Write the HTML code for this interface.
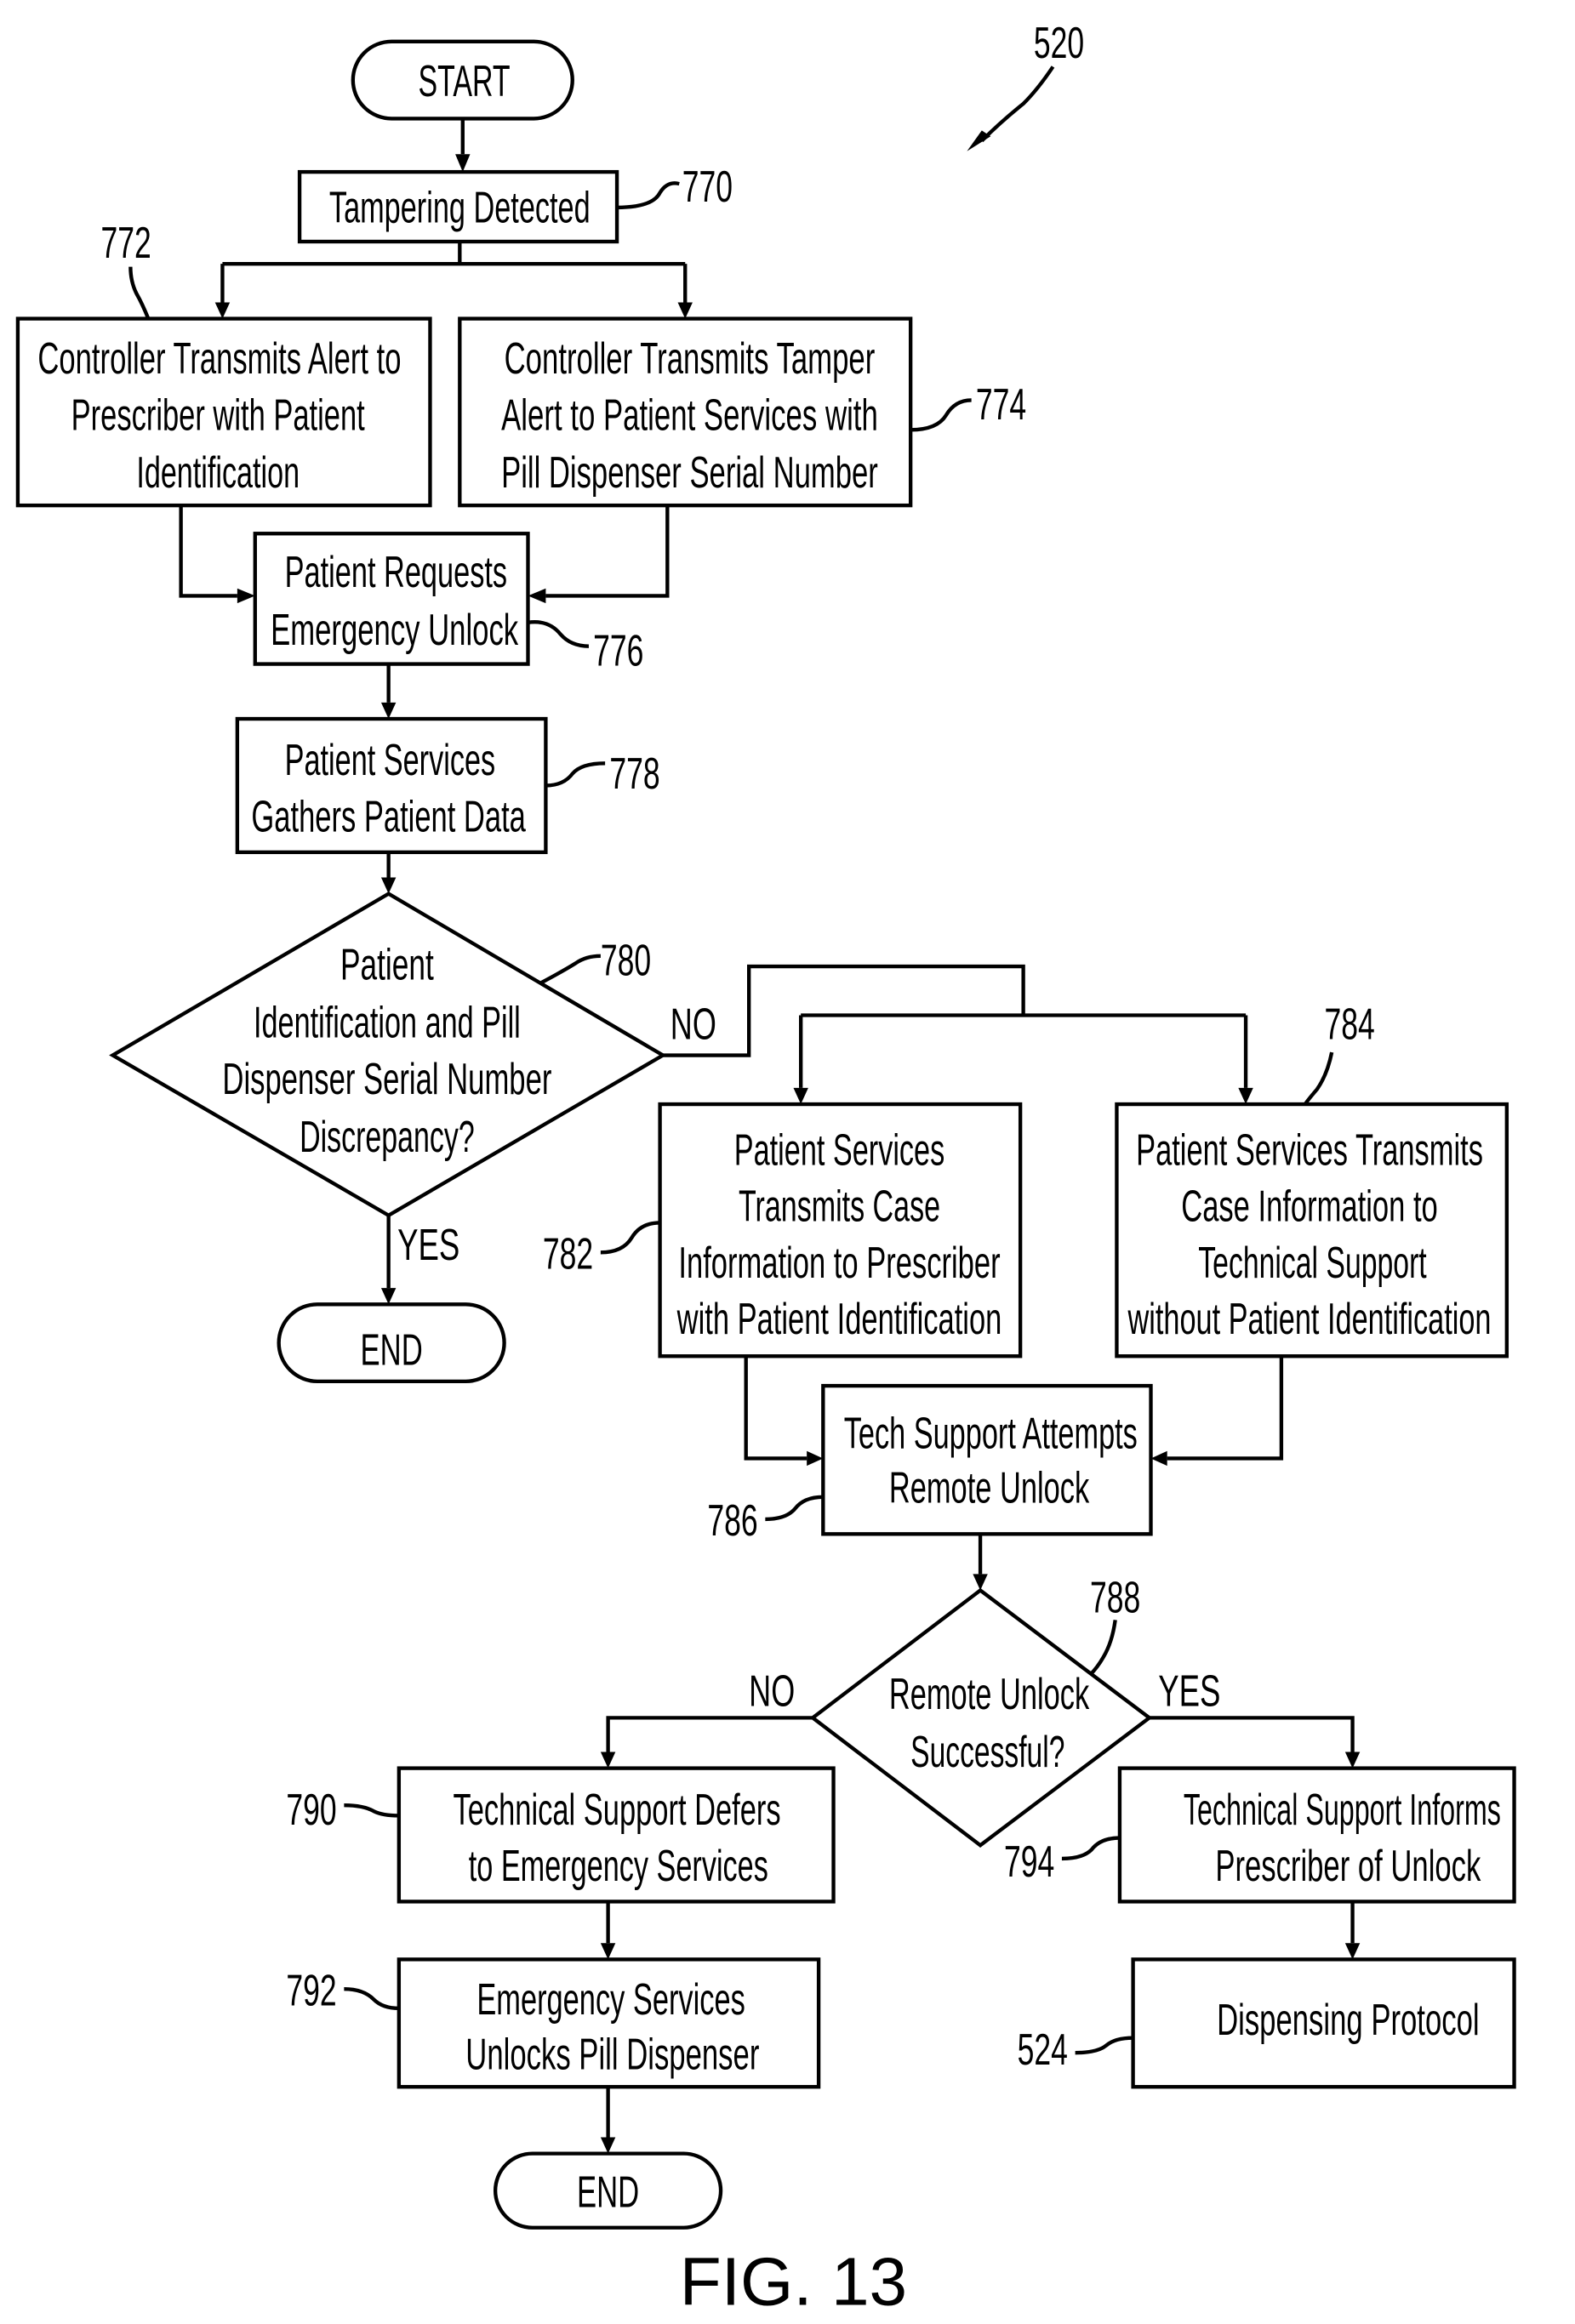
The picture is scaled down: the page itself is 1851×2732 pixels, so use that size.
<!DOCTYPE html>
<html><head><meta charset="utf-8"><style>
html,body{margin:0;padding:0;background:#fff;}
svg{display:block;}
text{font-family:"Liberation Sans Narrow","Liberation Sans",sans-serif;font-size:30px;fill:#000;}
</style></head><body>
<svg width="1851" height="2732" viewBox="0 0 1062 1568" preserveAspectRatio="none" xmlns="http://www.w3.org/2000/svg">
<g fill="none" stroke="#000" stroke-width="2.5">
<rect x="238" y="28" width="148" height="52" rx="26"/>
<rect x="202" y="116" width="214" height="47"/>
<rect x="12" y="215" width="278" height="126"/>
<rect x="310" y="215" width="304" height="126"/>
<rect x="172" y="360" width="184" height="88"/>
<rect x="160" y="485" width="208" height="90"/>
<polygon points="262,603 447,712 262,820 76,712"/>
<rect x="188" y="880" width="152" height="52" rx="26"/>
<rect x="445" y="745" width="243" height="170"/>
<rect x="753" y="745" width="263" height="170"/>
<rect x="555" y="935" width="221" height="100"/>
<polygon points="661,1073 775,1159 661,1245 548,1159"/>
<rect x="269" y="1193" width="293" height="90"/>
<rect x="269" y="1322" width="283" height="86"/>
<rect x="334" y="1453" width="152" height="50" rx="25"/>
<rect x="755" y="1193" width="266" height="90"/>
<rect x="764" y="1322" width="257" height="86"/>
<path d="M312 80V104"/>
<path d="M310 163V178M150 178H462M150 178V204M462 178V204"/>
<path d="M122 341V402H160M450 341V402H368"/>
<path d="M262 448V474M262 575V592"/>
<path d="M447 712H505V652H690V685M540 685H840M540 685V734M840 685V734"/>
<path d="M262 820V869"/>
<path d="M503 915V984H544M864 915V984H787"/>
<path d="M661 1035V1062"/>
<path d="M548 1159H410V1182M775 1159H912V1182"/>
<path d="M410 1283V1311M410 1408V1442M912 1283V1311"/>
<path d="M416 140Q440 140 445 130Q450 122 458 124"/>
<path d="M100 215Q96 205 92 198Q88 190 88 180"/>
<path d="M614 290Q632 290 638 280Q644 270 655 270"/>
<path d="M356 420Q370 418 378 428Q385 436 397 436"/>
<path d="M368 530Q380 530 386 522Q392 515 408 515"/>
<path d="M365 663Q380 655 388 650Q395 645 405 645"/>
<path d="M445 825Q432 825 426 835Q420 845 405 845"/>
<path d="M898 710Q895 725 888 735Q882 742 880 745"/>
<path d="M555 1010Q542 1010 536 1018Q530 1025 516 1025"/>
<path d="M752 1093Q750 1108 744 1118Q740 1125 735 1130"/>
<path d="M269 1225Q258 1225 252 1222Q245 1218 232 1218"/>
<path d="M269 1355Q258 1355 252 1349Q245 1342 232 1342"/>
<path d="M755 1240Q742 1240 736 1248Q730 1254 716 1254"/>
<path d="M764 1375Q752 1375 746 1380Q740 1385 725 1385"/>
<path d="M710 45Q700 60 690 70Q675 82 662 95"/>
</g>
<g fill="#000">
<polygon points="307,104 317,104 312,116"/>
<polygon points="145,204 155,204 150,215"/>
<polygon points="457,204 467,204 462,215"/>
<polygon points="160,397 160,407 172,402"/>
<polygon points="368,397 368,407 356,402"/>
<polygon points="257,474 267,474 262,485"/>
<polygon points="257,592 267,592 262,603"/>
<polygon points="535,734 545,734 540,745"/>
<polygon points="835,734 845,734 840,745"/>
<polygon points="257,869 267,869 262,880"/>
<polygon points="544,979 544,989 555,984"/>
<polygon points="787,979 787,989 776,984"/>
<polygon points="656,1062 666,1062 661,1073"/>
<polygon points="405,1182 415,1182 410,1193"/>
<polygon points="907,1182 917,1182 912,1193"/>
<polygon points="405,1311 415,1311 410,1322"/>
<polygon points="405,1442 415,1442 410,1453"/>
<polygon points="907,1311 917,1311 912,1322"/>
<polygon points="652,102 668,92 662,88"/>
</g>
<g text-anchor="middle">
<text x="313" y="65" textLength="62" lengthAdjust="spacingAndGlyphs">START</text>
<text x="310" y="150" textLength="176" lengthAdjust="spacingAndGlyphs">Tampering Detected</text>
<text x="148" y="252" textLength="245" lengthAdjust="spacingAndGlyphs">Controller Transmits Alert to</text>
<text x="147" y="290" textLength="198" lengthAdjust="spacingAndGlyphs">Prescriber with Patient</text>
<text x="147" y="329" textLength="110" lengthAdjust="spacingAndGlyphs">Identification</text>
<text x="465" y="252" textLength="250" lengthAdjust="spacingAndGlyphs">Controller Transmits Tamper</text>
<text x="465" y="290" textLength="254" lengthAdjust="spacingAndGlyphs">Alert to Patient Services with</text>
<text x="465" y="329" textLength="254" lengthAdjust="spacingAndGlyphs">Pill Dispenser Serial Number</text>
<text x="267" y="396" textLength="150" lengthAdjust="spacingAndGlyphs">Patient Requests</text>
<text x="266" y="435" textLength="167" lengthAdjust="spacingAndGlyphs">Emergency Unlock</text>
<text x="263" y="523" textLength="142" lengthAdjust="spacingAndGlyphs">Patient Services</text>
<text x="262" y="561" textLength="185" lengthAdjust="spacingAndGlyphs">Gathers Patient Data</text>
<text x="261" y="661" textLength="63" lengthAdjust="spacingAndGlyphs">Patient</text>
<text x="261" y="700" textLength="180" lengthAdjust="spacingAndGlyphs">Identification and Pill</text>
<text x="261" y="738" textLength="222" lengthAdjust="spacingAndGlyphs">Dispenser Serial Number</text>
<text x="261" y="777" textLength="118" lengthAdjust="spacingAndGlyphs">Discrepancy?</text>
<text x="264" y="921" textLength="42" lengthAdjust="spacingAndGlyphs">END</text>
<text x="566" y="786" textLength="142" lengthAdjust="spacingAndGlyphs">Patient Services</text>
<text x="566" y="824" textLength="136" lengthAdjust="spacingAndGlyphs">Transmits Case</text>
<text x="566" y="862" textLength="217" lengthAdjust="spacingAndGlyphs">Information to Prescriber</text>
<text x="566" y="900" textLength="219" lengthAdjust="spacingAndGlyphs">with Patient Identification</text>
<text x="883" y="786" textLength="234" lengthAdjust="spacingAndGlyphs">Patient Services Transmits</text>
<text x="883" y="824" textLength="173" lengthAdjust="spacingAndGlyphs">Case Information to</text>
<text x="885" y="862" textLength="154" lengthAdjust="spacingAndGlyphs">Technical Support</text>
<text x="883" y="900" textLength="245" lengthAdjust="spacingAndGlyphs">without Patient Identification</text>
<text x="668" y="977" textLength="198" lengthAdjust="spacingAndGlyphs">Tech Support Attempts</text>
<text x="667" y="1014" textLength="135" lengthAdjust="spacingAndGlyphs">Remote Unlock</text>
<text x="667" y="1153" textLength="135" lengthAdjust="spacingAndGlyphs">Remote Unlock</text>
<text x="666" y="1192" textLength="104" lengthAdjust="spacingAndGlyphs">Successful?</text>
<text x="416" y="1231" textLength="221" lengthAdjust="spacingAndGlyphs">Technical Support Defers</text>
<text x="417" y="1269" textLength="202" lengthAdjust="spacingAndGlyphs">to Emergency Services</text>
<text x="412" y="1359" textLength="181" lengthAdjust="spacingAndGlyphs">Emergency Services</text>
<text x="413" y="1396" textLength="198" lengthAdjust="spacingAndGlyphs">Unlocks Pill Dispenser</text>
<text x="410" y="1489" textLength="42" lengthAdjust="spacingAndGlyphs">END</text>
<text x="905" y="1231" textLength="214" lengthAdjust="spacingAndGlyphs">Technical Support Informs</text>
<text x="909" y="1269" textLength="179" lengthAdjust="spacingAndGlyphs">Prescriber of Unlock</text>
<text x="909" y="1373" textLength="177" lengthAdjust="spacingAndGlyphs">Dispensing Protocol</text>
</g>
<g>
<text x="452" y="701" textLength="31" lengthAdjust="spacingAndGlyphs">NO</text>
<text x="268" y="850" textLength="42" lengthAdjust="spacingAndGlyphs">YES</text>
<text x="505" y="1151" textLength="31" lengthAdjust="spacingAndGlyphs">NO</text>
<text x="781" y="1151" textLength="42" lengthAdjust="spacingAndGlyphs">YES</text>
<text x="460" y="136" textLength="34" lengthAdjust="spacingAndGlyphs">770</text>
<text x="68" y="174" textLength="34" lengthAdjust="spacingAndGlyphs">772</text>
<text x="658" y="283" textLength="34" lengthAdjust="spacingAndGlyphs">774</text>
<text x="400" y="449" textLength="34" lengthAdjust="spacingAndGlyphs">776</text>
<text x="411" y="532" textLength="34" lengthAdjust="spacingAndGlyphs">778</text>
<text x="405" y="658" textLength="34" lengthAdjust="spacingAndGlyphs">780</text>
<text x="366" y="856" textLength="34" lengthAdjust="spacingAndGlyphs">782</text>
<text x="893" y="701" textLength="34" lengthAdjust="spacingAndGlyphs">784</text>
<text x="477" y="1036" textLength="34" lengthAdjust="spacingAndGlyphs">786</text>
<text x="735" y="1088" textLength="34" lengthAdjust="spacingAndGlyphs">788</text>
<text x="193" y="1231" textLength="34" lengthAdjust="spacingAndGlyphs">790</text>
<text x="193" y="1353" textLength="34" lengthAdjust="spacingAndGlyphs">792</text>
<text x="677" y="1266" textLength="34" lengthAdjust="spacingAndGlyphs">794</text>
<text x="686" y="1393" textLength="34" lengthAdjust="spacingAndGlyphs">524</text>
<text x="697" y="39" textLength="34" lengthAdjust="spacingAndGlyphs">520</text>
<text x="535" y="1555" text-anchor="middle" style="font-family:'Liberation Sans',sans-serif;font-size:46px">FIG. 13</text>
</g>
</svg>
</body></html>
